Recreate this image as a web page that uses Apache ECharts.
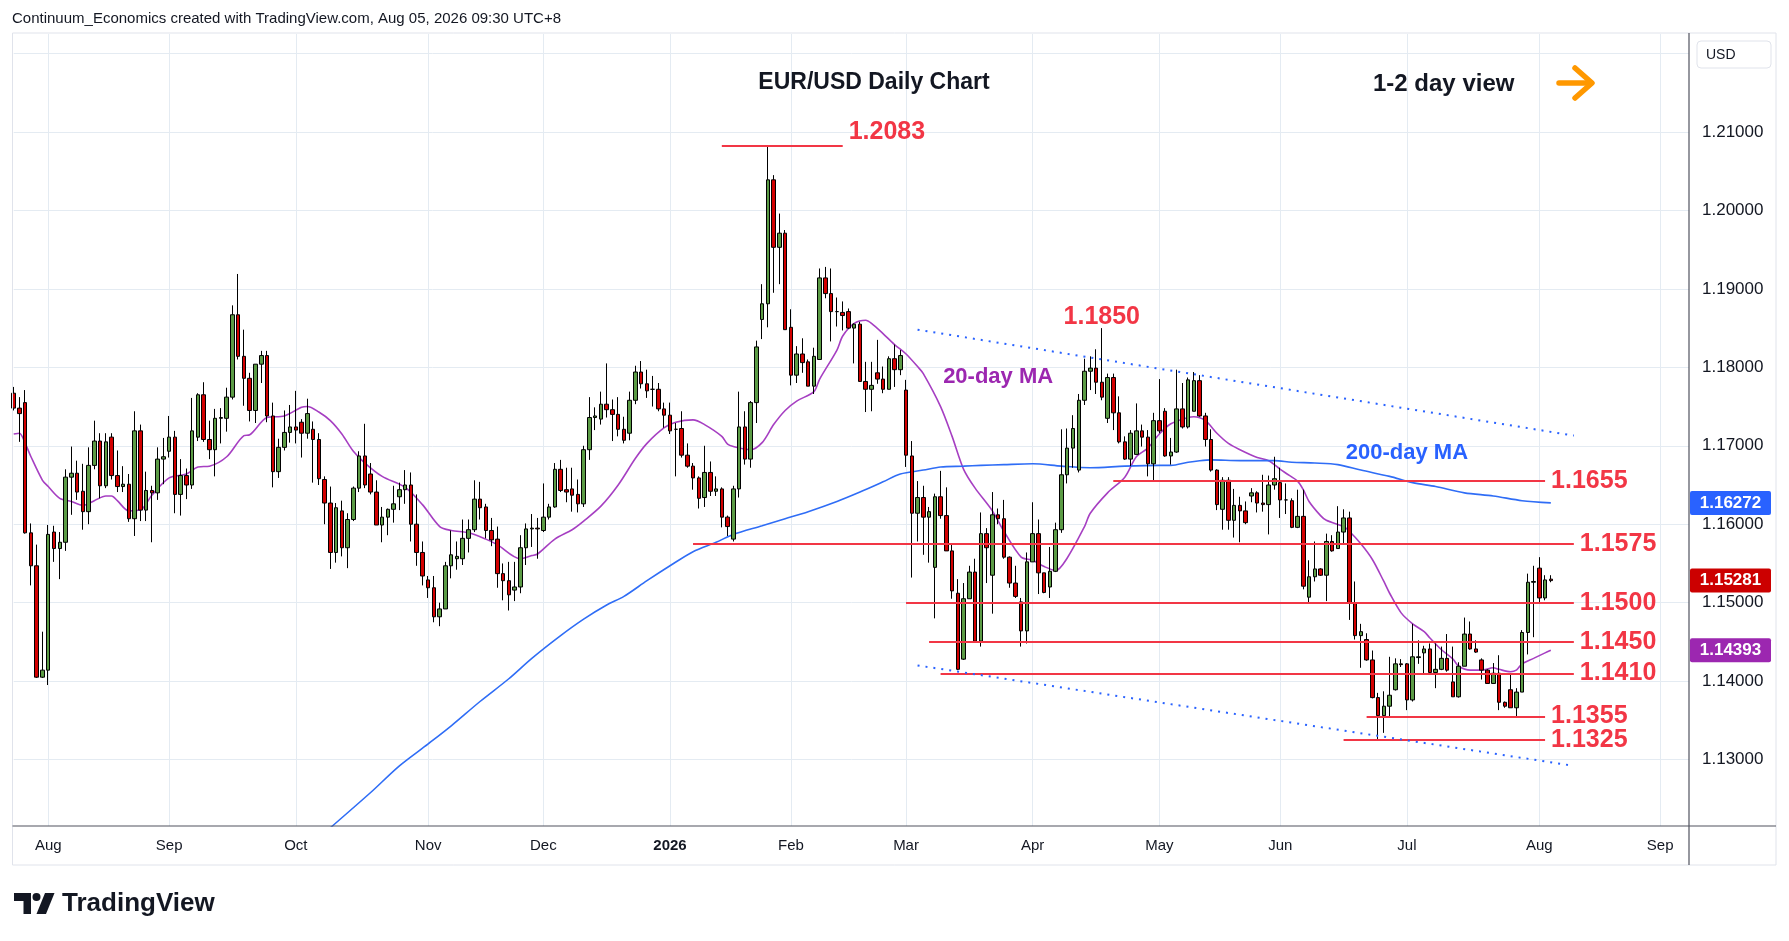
<!DOCTYPE html>
<html>
<head>
<meta charset="utf-8">
<title>EUR/USD Daily Chart</title>
<script src="https://cdn.jsdelivr.net/npm/echarts@6.0.0/dist/echarts.min.js"></script>
<style>
  html, body { margin: 0; padding: 0; background: #fff; }
  #main { width: 1789px; height: 941px; }
</style>
</head>
<body>
<div id="main"></div>
<script>
// trading calendar: weekdays from the first visible bar, FX holidays left out
var firstDay = '2025-07-24';
var barCount = 292;
var holidays = ['2025-12-25', '2026-01-01'];
var monthNames = ['Jan','Feb','Mar','Apr','May','Jun','Jul','Aug','Sep','Oct','Nov','Dec'];

// daily candles [open, high, low, close], one row per trading day from firstDay
var ohlc = [
  // Jul 2025
  [1.1767,1.1775,1.1745,1.1748],[1.1748,1.1762,1.1705,1.1741],[1.1755,1.1771,1.1588,1.1589],
  [1.1589,1.1601,1.1522,1.1547],[1.1547,1.1574,1.1404,1.1405],[1.1405,1.1463,1.1404,1.1414],
  // Aug
  [1.1414,1.1599,1.1395,1.1587],[1.1590,1.1598,1.1552,1.1569],[1.1569,1.1590,1.1530,1.1577],
  [1.1577,1.1670,1.1566,1.1660],[1.1660,1.1699,1.1612,1.1665],[1.1665,1.1681,1.1631,1.1641],
  [1.1642,1.1677,1.1593,1.1616],[1.1616,1.1698,1.1600,1.1675],[1.1675,1.1732,1.1670,1.1706],
  [1.1706,1.1716,1.1633,1.1649],[1.1649,1.1716,1.1646,1.1705],[1.1711,1.1716,1.1657,1.1662],
  [1.1662,1.1694,1.1641,1.1648],[1.1648,1.1674,1.1641,1.1651],[1.1651,1.1664,1.1603,1.1607],
  [1.1607,1.1744,1.1585,1.1719],[1.1719,1.1727,1.1604,1.1618],[1.1618,1.1667,1.1604,1.1643],
  [1.1643,1.1649,1.1577,1.1640],[1.1640,1.1698,1.1631,1.1683],[1.1683,1.1710,1.1651,1.1686],
  // Sep
  [1.1693,1.1738,1.1685,1.1711],[1.1711,1.1719,1.1614,1.1638],[1.1638,1.1683,1.1611,1.1662],
  [1.1662,1.1671,1.1632,1.1650],[1.1650,1.1761,1.1645,1.1719],[1.1711,1.1767,1.1706,1.1765],
  [1.1765,1.1781,1.1705,1.1708],[1.1708,1.1732,1.1683,1.1695],[1.1695,1.1747,1.1661,1.1735],
  [1.1735,1.1748,1.1703,1.1736],[1.1735,1.1774,1.1718,1.1762],[1.1762,1.1879,1.1759,1.1867],
  [1.1867,1.1919,1.1810,1.1814],[1.1814,1.1848,1.1751,1.1786],[1.1786,1.1793,1.1731,1.1745],
  [1.1745,1.1804,1.1729,1.1804],[1.1804,1.1821,1.1780,1.1815],[1.1815,1.1821,1.1730,1.1738],
  [1.1738,1.1755,1.1647,1.1667],[1.1667,1.1709,1.1659,1.1698],[1.1698,1.1745,1.1694,1.1717],
  [1.1717,1.1752,1.1704,1.1724],
  // Oct
  [1.1724,1.1770,1.1703,1.1720],[1.1730,1.1734,1.1685,1.1716],[1.1716,1.1760,1.1709,1.1741],
  [1.1721,1.1731,1.1653,1.1708],[1.1708,1.1716,1.1650,1.1658],[1.1657,1.1661,1.1600,1.1627],
  [1.1627,1.1648,1.1543,1.1564],[1.1564,1.1627,1.1551,1.1621],[1.1617,1.1630,1.1559,1.1570],
  [1.1570,1.1614,1.1544,1.1606],[1.1606,1.1648,1.1604,1.1646],[1.1646,1.1693,1.1641,1.1687],
  [1.1687,1.1728,1.1646,1.1650],[1.1664,1.1678,1.1638,1.1641],[1.1641,1.1656,1.1599,1.1599],
  [1.1599,1.1622,1.1577,1.1609],[1.1609,1.1620,1.1586,1.1619],[1.1619,1.1649,1.1602,1.1626],
  [1.1635,1.1653,1.1618,1.1644],[1.1644,1.1669,1.1626,1.1650],[1.1650,1.1666,1.1578,1.1600],
  [1.1600,1.1638,1.1547,1.1564],[1.1564,1.1578,1.1522,1.1534],
  // Nov
  [1.1529,1.1534,1.1506,1.1519],[1.1519,1.1534,1.1475,1.1482],[1.1482,1.1500,1.1470,1.1492],
  [1.1492,1.1552,1.1492,1.1547],[1.1547,1.1592,1.1531,1.1561],[1.1556,1.1578,1.1542,1.1559],
  [1.1556,1.1606,1.1548,1.1582],[1.1582,1.1606,1.1564,1.1593],[1.1593,1.1656,1.1590,1.1632],
  [1.1632,1.1654,1.1606,1.1621],[1.1622,1.1626,1.1582,1.1592],[1.1592,1.1608,1.1572,1.1580],
  [1.1581,1.1597,1.1519,1.1537],[1.1537,1.1550,1.1503,1.1528],[1.1528,1.1552,1.1490,1.1510],
  [1.1516,1.1552,1.1502,1.1520],[1.1520,1.1586,1.1512,1.1570],[1.1570,1.1601,1.1548,1.1594],
  [1.1594,1.1613,1.1571,1.1595],[1.1595,1.1608,1.1556,1.1594],
  // Dec
  [1.1592,1.1652,1.1590,1.1609],[1.1609,1.1626,1.1606,1.1622],[1.1622,1.1678,1.1621,1.1670],
  [1.1670,1.1682,1.1641,1.1643],[1.1644,1.1672,1.1628,1.1641],[1.1645,1.1672,1.1616,1.1637],
  [1.1638,1.1657,1.1615,1.1626],[1.1626,1.1700,1.1622,1.1695],[1.1695,1.1762,1.1682,1.1736],
  [1.1736,1.1749,1.1720,1.1738],[1.1734,1.1769,1.1727,1.1753],[1.1753,1.1805,1.1736,1.1746],
  [1.1746,1.1759,1.1706,1.1740],[1.1740,1.1762,1.1712,1.1721],[1.1721,1.1737,1.1703,1.1707],
  [1.1716,1.1769,1.1707,1.1758],[1.1758,1.1802,1.1753,1.1794],[1.1794,1.1808,1.1773,1.1779],
  [1.1779,1.1797,1.1761,1.1770],[1.1772,1.1789,1.1750,1.1772],[1.1772,1.1780,1.1744,1.1747],
  [1.1747,1.1755,1.1723,1.1739],
  // Jan 2026
  [1.1739,1.1755,1.1715,1.1719],[1.1721,1.1729,1.1661,1.1721],[1.1722,1.1744,1.1685,1.1688],
  [1.1688,1.1703,1.1672,1.1674],[1.1674,1.1678,1.1644,1.1659],[1.1659,1.1661,1.1620,1.1633],
  [1.1634,1.1700,1.1622,1.1666],[1.1666,1.1680,1.1636,1.1642],[1.1642,1.1661,1.1636,1.1645],
  [1.1645,1.1647,1.1596,1.1609],[1.1609,1.1611,1.1585,1.1597],[1.1581,1.1649,1.1578,1.1645],
  [1.1645,1.1769,1.1634,1.1724],[1.1724,1.1744,1.1676,1.1683],[1.1683,1.1757,1.1672,1.1755],
  [1.1755,1.1834,1.1729,1.1826],[1.1861,1.1906,1.1836,1.1881],[1.1881,1.2083,1.1851,1.2039],
  [1.2039,1.2045,1.1895,1.1953],[1.1953,1.1996,1.1906,1.1971],[1.1971,1.1975,1.1848,1.1848],
  // Feb
  [1.1851,1.1874,1.1777,1.1790],[1.1790,1.1827,1.1780,1.1817],[1.1817,1.1837,1.1793,1.1806],
  [1.1807,1.1810,1.1776,1.1776],[1.1776,1.1825,1.1766,1.1814],[1.1810,1.1926,1.1810,1.1914],
  [1.1914,1.1928,1.1888,1.1894],[1.1894,1.1926,1.1833,1.1871],[1.1871,1.1889,1.1852,1.1871],
  [1.1870,1.1884,1.1847,1.1866],[1.1871,1.1875,1.1849,1.1850],[1.1850,1.1856,1.1805,1.1855],
  [1.1855,1.1858,1.1782,1.1782],[1.1782,1.1807,1.1743,1.1772],[1.1772,1.1807,1.1744,1.1777],
  [1.1793,1.1835,1.1779,1.1785],[1.1785,1.1801,1.1767,1.1772],[1.1772,1.1814,1.1772,1.1811],
  [1.1811,1.1829,1.1775,1.1797],[1.1797,1.1822,1.1790,1.1815],
  // Mar
  [1.1771,1.1784,1.1673,1.1688],[1.1687,1.1706,1.1532,1.1614],[1.1614,1.1655,1.1578,1.1634],
  [1.1634,1.1649,1.1561,1.1609],[1.1609,1.1622,1.1551,1.1616],[1.1545,1.1639,1.1480,1.1635],
  [1.1635,1.1668,1.1607,1.1611],[1.1611,1.1647,1.1566,1.1566],[1.1566,1.1575,1.1505,1.1515],
  [1.1512,1.1530,1.1414,1.1415],[1.1428,1.1525,1.1427,1.1505],[1.1505,1.1547,1.1505,1.1539],
  [1.1539,1.1556,1.1451,1.1451],[1.1451,1.1615,1.1444,1.1588],[1.1588,1.1595,1.1525,1.1570],
  [1.1535,1.1641,1.1486,1.1612],[1.1612,1.1620,1.1600,1.1607],[1.1607,1.1631,1.1556,1.1558],
  [1.1558,1.1559,1.1519,1.1525],[1.1525,1.1547,1.1506,1.1508],[1.1501,1.1506,1.1444,1.1464],
  [1.1464,1.1564,1.1448,1.1552],
  // Apr
  [1.1552,1.1628,1.1552,1.1588],[1.1588,1.1606,1.1511,1.1538],[1.1538,1.1538,1.1512,1.1513],
  [1.1520,1.1571,1.1506,1.1540],[1.1540,1.1602,1.1539,1.1593],[1.1593,1.1721,1.1589,1.1663],
  [1.1663,1.1722,1.1652,1.1697],[1.1697,1.1739,1.1672,1.1722],[1.1669,1.1766,1.1666,1.1758],
  [1.1758,1.1811,1.1752,1.1795],[1.1795,1.1814,1.1771,1.1799],[1.1799,1.1823,1.1766,1.1781],
  [1.1781,1.1850,1.1758,1.1762],[1.1735,1.1792,1.1729,1.1787],[1.1787,1.1792,1.1720,1.1742],
  [1.1742,1.1763,1.1703,1.1705],[1.1705,1.1712,1.1682,1.1683],[1.1683,1.1720,1.1674,1.1716],
  [1.1689,1.1754,1.1689,1.1719],[1.1719,1.1727,1.1699,1.1711],[1.1711,1.1720,1.1661,1.1677],
  [1.1677,1.1742,1.1656,1.1732],
  // May
  [1.1732,1.1785,1.1716,1.1719],[1.1744,1.1748,1.1686,1.1687],[1.1687,1.1710,1.1676,1.1692],
  [1.1692,1.1797,1.1691,1.1747],[1.1747,1.1780,1.1722,1.1724],[1.1724,1.1787,1.1722,1.1784],
  [1.1744,1.1794,1.1744,1.1783],[1.1783,1.1790,1.1737,1.1738],[1.1738,1.1742,1.1699,1.1708],
  [1.1708,1.1721,1.1667,1.1669],[1.1669,1.1670,1.1618,1.1625],[1.1619,1.1660,1.1593,1.1656],
  [1.1656,1.1660,1.1593,1.1605],[1.1605,1.1645,1.1583,1.1624],[1.1624,1.1635,1.1577,1.1617],
  [1.1617,1.1629,1.1600,1.1602],[1.1636,1.1646,1.1628,1.1640],[1.1640,1.1642,1.1615,1.1627],
  [1.1627,1.1663,1.1616,1.1625],[1.1625,1.1662,1.1587,1.1650],[1.1650,1.1686,1.1644,1.1658],
  // Jun
  [1.1653,1.1672,1.1608,1.1631],[1.1631,1.1652,1.1613,1.1631],[1.1630,1.1633,1.1595,1.1596],
  [1.1596,1.1644,1.1595,1.1610],[1.1610,1.1644,1.1517,1.1521],[1.1507,1.1554,1.1499,1.1533],
  [1.1533,1.1578,1.1527,1.1543],[1.1543,1.1544,1.1534,1.1535],[1.1535,1.1588,1.1502,1.1578],
  [1.1578,1.1586,1.1565,1.1566],[1.1569,1.1623,1.1569,1.1590],[1.1590,1.1619,1.1576,1.1608],
  [1.1608,1.1616,1.1478,1.1500],[1.1500,1.1527,1.1453,1.1458],[1.1458,1.1473,1.1417,1.1463],
  [1.1453,1.1461,1.1426,1.1427],[1.1427,1.1439,1.1378,1.1379],[1.1379,1.1385,1.1324,1.1356],
  [1.1356,1.1387,1.1334,1.1368],[1.1368,1.1431,1.1355,1.1382],[1.1389,1.1429,1.1388,1.1422],
  [1.1422,1.1428,1.1418,1.1421],
  // Jul
  [1.1422,1.1423,1.1363,1.1376],[1.1376,1.1473,1.1374,1.1431],[1.1430,1.1452,1.1422,1.1431],
  [1.1436,1.1445,1.1410,1.1441],[1.1441,1.1448,1.1410,1.1411],[1.1411,1.1448,1.1391,1.1415],
  [1.1415,1.1444,1.1414,1.1429],[1.1429,1.1460,1.1412,1.1414],[1.1399,1.1444,1.1380,1.1380],
  [1.1380,1.1424,1.1379,1.1419],[1.1419,1.1481,1.1419,1.1460],[1.1460,1.1476,1.1440,1.1441],
  [1.1441,1.1452,1.1436,1.1437],[1.1427,1.1429,1.1402,1.1414],[1.1414,1.1415,1.1397,1.1397],
  [1.1397,1.1423,1.1397,1.1410],[1.1410,1.1433,1.1363,1.1373],[1.1373,1.1374,1.1366,1.1368],
  [1.1389,1.1410,1.1366,1.1366],[1.1366,1.1391,1.1354,1.1386],[1.1386,1.1465,1.1386,1.1462],
  [1.1462,1.1537,1.1434,1.1526],[1.1526,1.1547,1.1456,1.1527],
  // Aug
  [1.1544,1.1558,1.1500,1.1506],[1.1506,1.1535,1.1503,1.1529],[1.1530,1.1535,1.1526,1.15281]
];

// 20-day moving average, read at [bar index, value]
var ma20 = [
  [0,1.1715],[1,1.1716],[2,1.1703],[3,1.1686],[5,1.1656],[6,1.1648],[8,1.1633],[10,1.1629],
  [12,1.1624],[14,1.1630],[16,1.1636],[17,1.1636],[18,1.1630],[20,1.1617],[22,1.1618],[24,1.1637],
  [27,1.1659],[30,1.1664],[32,1.1673],[34,1.1674],[37,1.1686],[40,1.1713],[41,1.1714],[44,1.1736],
  [47,1.1738],[50,1.1749],[51,1.1750],[53,1.1743],[55,1.1732],[57,1.1715],[59,1.1693],[61,1.1678],
  [64,1.1661],[68,1.1647],[71,1.1625],[74,1.1597],[76,1.1592],[79,1.1589],[82,1.1581],[84,1.1574],
  [88,1.1556],[90,1.1560],[91,1.1562],[94,1.1581],[97,1.1593],[99,1.1604],[102,1.1623],[105,1.1650],
  [108,1.1684],[110,1.1703],[113,1.1723],[115,1.1730],[118,1.1733],[120,1.1727],[123,1.1712],
  [124,1.1702],[125,1.1699],[128,1.1695],[130,1.1704],[132,1.1727],[134,1.1745],[136,1.1757],
  [139,1.1769],[140,1.1785],[143,1.1822],[144,1.1840],[146,1.1856],[148,1.1860],[149,1.1856],
  [151,1.1843],[153,1.1829],[155,1.1817],[157,1.1801],[158,1.1792],[161,1.1750],[163,1.1712],
  [165,1.1670],[167,1.1646],[170,1.1617],[172,1.1591],[175,1.1558],[177,1.1554],[179,1.1546],
  [181,1.1541],[183,1.1557],[186,1.1597],[187,1.1614],[190,1.1640],[193,1.1660],[195,1.1686],
  [197,1.1697],[199,1.1715],[201,1.1728],[204,1.1736],[205,1.1737],[207,1.1732],[209,1.1716],
  [211,1.1703],[213,1.1695],[216,1.1685],[218,1.1681],[220,1.1670],[221,1.1665],[223,1.1655],
  [224,1.1644],[225,1.1629],[227,1.1611],[228,1.1605],[231,1.1597],[232,1.1591],[234,1.1575],
  [236,1.1555],[238,1.1527],[239,1.1512],[241,1.1487],[243,1.1473],[245,1.1463],[246,1.1455],
  [248,1.1440],[250,1.1428],[251,1.1419],[253,1.1414],[255,1.1414],[257,1.1417],[258,1.1415],
  [260,1.1412],[261,1.1414],[262,1.1422],[264,1.1429],[266,1.1436],[267,1.14393]
];

// 200-day moving average, read at [bar index, value]
var ma200 = [
  [53,1.1200],[55,1.1213],[62,1.1258],[67,1.1292],[72,1.1320],[76,1.1343],[81,1.1374],[86,1.1403],
  [90,1.1429],[95,1.1458],[99,1.1479],[103,1.1497],[106,1.1508],[110,1.1528],[114,1.1547],
  [118,1.1565],[122,1.1577],[125,1.1587],[130,1.1598],[134,1.1607],[138,1.1616],[143,1.1629],
  [147,1.1641],[151,1.1654],[154,1.1664],[158,1.1669],[161,1.1673],[165,1.1674],[168,1.1675],
  [172,1.1676],[177,1.1677],[182,1.1674],[187,1.1672],[193,1.1674],[199,1.1675],[201,1.1675],
  [204,1.1679],[206,1.1681],[208,1.1682],[213,1.1681],[219,1.1681],[222,1.1679],[226,1.1678],
  [230,1.1676],[234,1.1669],[239,1.1661],[243,1.1653],[247,1.1648],[252,1.1640],[257,1.1636],
  [262,1.1630],[267,1.16272]
];

// horizontal support / resistance levels and the bars they span
var levelPrices = [1.2083, 1.1655, 1.1575, 1.1500, 1.1450, 1.1410, 1.1355, 1.1325];
var levelFrom   = [123, 191, 118, 155, 159, 161, 235, 231];
var levelTo     = [144, 266, 271, 271, 271, 271, 266, 266];

// dotted channel lines [bar index, price]
var channelUpper = [[157, 1.1848], [271, 1.1713]];
var channelLower = [[157, 1.1420], [271, 1.1292]];

// annotation: April high
var aprilHigh = [189, 1.1850];

var priceTicks  = [1.13, 1.14, 1.15, 1.16, 1.17, 1.18, 1.19, 1.20, 1.21, 1.22];
var priceLabels = [1.13, 1.14, 1.15, 1.16, 1.17, 1.18, 1.19, 1.20, 1.21];

var FONT = '"Liberation Sans", Arial, sans-serif';
var RED = '#f23645';
var GRID = '#e4ebf2';

var days = [];
var d = new Date(firstDay + 'T00:00:00Z');
while (days.length < barCount) {
    var s = d.toISOString().slice(0, 10);
    var wd = d.getUTCDay();
    if (wd !== 0 && wd !== 6 && holidays.indexOf(s) < 0) days.push(s);
    d.setUTCDate(d.getUTCDate() + 1);
}
function isMonthStart(i) {
    return i > 0 && days[i].slice(5, 7) !== days[i - 1].slice(5, 7);
}

var candles = ohlc.map(function (r) { return [r[0], r[3], r[2], r[1]]; });

var markLines = [];
levelPrices.forEach(function (p, i) {
    // the top level's label sits a little above its line
    var dy = p > 1.2 ? -13 : 0;
    markLines.push([
        {coord: [levelFrom[i], p], lineStyle: {color: RED, width: 2, type: 'solid'},
         label: {show: true, position: 'end', distance: 6, offset: [0, dy], formatter: p.toFixed(4),
                 color: RED, fontSize: 25, fontWeight: 'bold', fontFamily: FONT}},
        {coord: [levelTo[i], p]}
    ]);
});
[channelUpper, channelLower].forEach(function (c) {
    markLines.push([
        {coord: c[0], lineStyle: {color: '#2962ff', width: 2, type: [2, 6]}, label: {show: false}},
        {coord: c[1]}
    ]);
});

var chart = echarts.init(document.getElementById('main'));

var option = {
    animation: false,
    backgroundColor: '#ffffff',
    textStyle: {fontFamily: FONT},
    grid: {left: 13.7, right: 100, top: 34, bottom: 115},
    xAxis: {
        type: 'category',
        data: days,
        boundaryGap: false,
        axisLine: {show: false},
        axisTick: {show: false},
        axisLabel: {
            interval: function (i) { return isMonthStart(i); },
            formatter: function (v) {
                var m = +v.slice(5, 7);
                return m === 1 ? '{y|' + v.slice(0, 4) + '}' : monthNames[m - 1];
            },
            color: '#131722', fontSize: 15, margin: 12, fontFamily: FONT,
            rich: {y: {fontWeight: 'bold', fontSize: 15, color: '#131722', fontFamily: FONT}}
        },
        splitLine: {
            show: true,
            interval: function (i) { return isMonthStart(i); },
            lineStyle: {color: GRID, width: 1}
        }
    },
    yAxis: {
        type: 'value',
        position: 'right',
        min: 1.12153,
        max: 1.22249,
        axisLine: {show: false},
        axisTick: {show: false, customValues: priceTicks},
        axisLabel: {
            customValues: priceLabels,
            formatter: function (v) { return v.toFixed(5); },
            color: '#131722', fontSize: 17, margin: 13, fontFamily: FONT
        },
        splitLine: {show: true, lineStyle: {color: GRID, width: 1}}
    },
    series: [
        {
            name: 'EURUSD',
            type: 'candlestick',
            data: candles,
            barWidth: 4,
            itemStyle: {
                color: '#5b9b45', color0: '#d20000',
                borderColor: '#000000', borderColor0: '#000000', borderWidth: 1
            },
            markLine: {
                silent: true, symbol: ['none', 'none'], animation: false,
                data: markLines
            },
            markPoint: {
                silent: true, symbol: 'circle', symbolSize: 0, animation: false,
                data: [{
                    coord: aprilHigh,
                    label: {show: true, position: 'top', distance: 5, offset: [0, 7],
                            formatter: aprilHigh[1].toFixed(4),
                            color: RED, fontSize: 25, fontWeight: 'bold', fontFamily: FONT}
                }]
            },
            z: 3
        },
        {
            name: '20-day MA',
            type: 'line',
            data: ma20,
            symbol: 'none',
            smooth: 0.3,
            lineStyle: {color: '#a63fc2', width: 1.6},
            markPoint: {
                silent: true, symbol: 'circle', symbolSize: 0, animation: false,
                data: [{coord: [171, 1.1788],
                        label: {show: true, position: 'inside', formatter: '20-day MA',
                                color: '#9c27b0', fontSize: 22, fontWeight: 'bold', fontFamily: FONT}}]
            },
            z: 2
        },
        {
            name: '200-day MA',
            type: 'line',
            data: ma200,
            symbol: 'none',
            smooth: 0.3,
            lineStyle: {color: '#2f6df6', width: 1.6},
            markPoint: {
                silent: true, symbol: 'circle', symbolSize: 0, animation: false,
                data: [{coord: [242, 1.1691],
                        label: {show: true, position: 'inside', formatter: '200-day MA',
                                color: '#2962ff', fontSize: 22, fontWeight: 'bold', fontFamily: FONT}}]
            },
            z: 2
        }
    ]
};
chart.setOption(option);

// frame, headings and logo
var graphics = [
    {type: 'rect', shape: {x: 12.5, y: 33, width: 1763.5, height: 832}, silent: true,
     style: {fill: 'none', stroke: '#e0e3eb', lineWidth: 1}, z: 10},
    {type: 'line', shape: {x1: 12.5, y1: 826, x2: 1776, y2: 826}, silent: true,
     style: {stroke: '#50535e', lineWidth: 1.2}, z: 10},
    {type: 'line', shape: {x1: 1689, y1: 33, x2: 1689, y2: 865}, silent: true,
     style: {stroke: '#50535e', lineWidth: 1.2}, z: 10},
    {type: 'text', left: 12, top: 11, silent: true,
     style: {text: 'Continuum_Economics created with TradingView.com, Aug 05, 2026 09:30 UTC+8',
             fill: '#131722', font: '15px ' + FONT}},
    {type: 'text', x: 874, y: 83, silent: true,
     style: {text: 'EUR/USD Daily Chart', fill: '#131722', font: 'bold 23px ' + FONT,
             align: 'center', verticalAlign: 'middle'}},
    {type: 'text', x: 1373, y: 84, silent: true,
     style: {text: '1-2 day view', fill: '#131722', font: 'bold 24px ' + FONT,
             align: 'left', verticalAlign: 'middle'}},
    {type: 'polyline', shape: {points: [[1559, 83], [1591, 83]]}, silent: true,
     style: {stroke: '#ff9800', lineWidth: 5.5, lineCap: 'round', fill: 'none'}},
    {type: 'polyline', shape: {points: [[1575, 68], [1592, 83], [1575, 98]]}, silent: true,
     style: {stroke: '#ff9800', lineWidth: 5.5, lineCap: 'round', lineJoin: 'round', fill: 'none'}},
    {type: 'rect', shape: {x: 1697, y: 41, width: 74, height: 27, r: 4}, silent: true,
     style: {fill: '#ffffff', stroke: '#e0e3eb', lineWidth: 1}, z: 11},
    {type: 'text', x: 1706, y: 55, silent: true, z: 12,
     style: {text: 'USD', fill: '#131722', font: '14px ' + FONT, verticalAlign: 'middle'}},
    {type: 'polygon', shape: {points: [[14, 893], [31, 893], [31, 914], [23.5, 914], [23.5, 901], [14, 901]]},
     silent: true, style: {fill: '#131722'}},
    {type: 'circle', shape: {cx: 36.5, cy: 897, r: 4}, silent: true, style: {fill: '#131722'}},
    {type: 'polygon', shape: {points: [[45, 893], [54.5, 893], [46, 914], [36.5, 914]]},
     silent: true, style: {fill: '#131722'}},
    {type: 'text', x: 62, y: 904, silent: true,
     style: {text: 'TradingView', fill: '#131722', font: 'bold 26px ' + FONT, verticalAlign: 'middle'}}
];

// last-value boxes on the price scale
var lastValues = [
    [ma200[ma200.length - 1][1], '#2962ff'],
    [ohlc[ohlc.length - 1][3], '#cc0000'],
    [ma20[ma20.length - 1][1], '#9c27b0']
];
lastValues.forEach(function (lv) {
    var y = chart.convertToPixel({yAxisIndex: 0}, lv[0]);
    graphics.push({type: 'rect', shape: {x: 1690, y: y - 12, width: 81, height: 24, r: 2}, silent: true,
                   style: {fill: lv[1]}, z: 20});
    graphics.push({type: 'text', x: 1730.5, y: y, silent: true, z: 21,
                   style: {text: lv[0].toFixed(5), fill: '#ffffff', font: 'bold 17px ' + FONT,
                           align: 'center', verticalAlign: 'middle'}});
});

chart.setOption({graphic: graphics});
</script>
</body>
</html>
